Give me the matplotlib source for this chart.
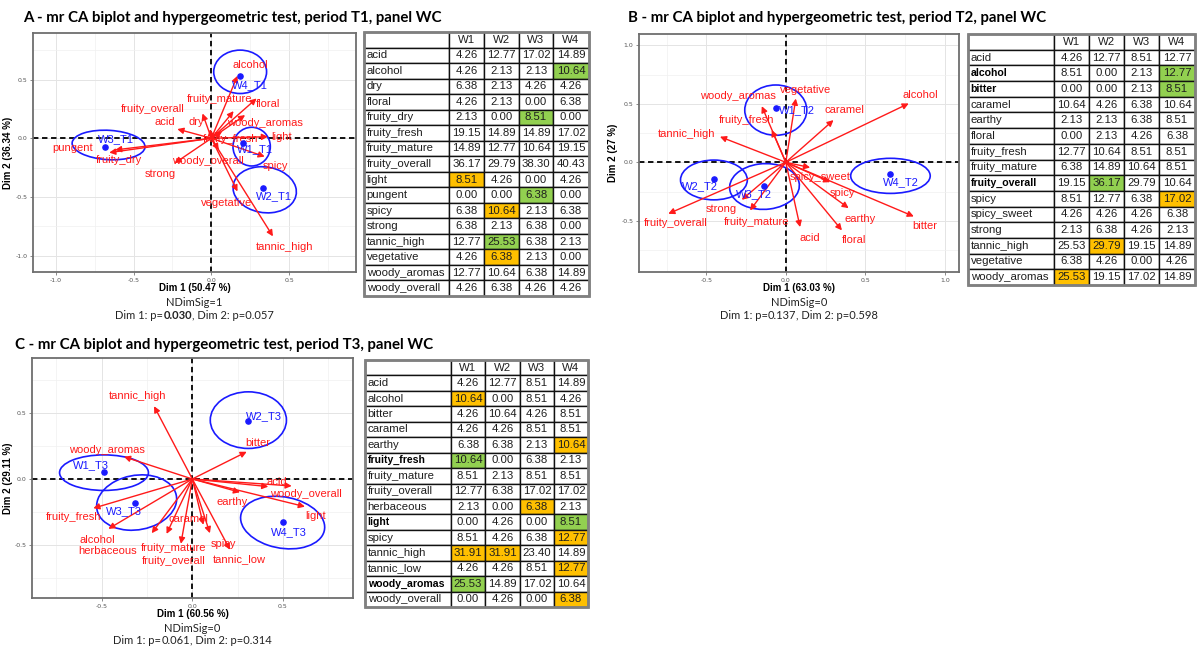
import matplotlib
matplotlib.use('Agg')
import matplotlib.pyplot as plt
from matplotlib.patches import Ellipse, Rectangle

# ---------------- panel A : period T1 ----------------
a_title = 'A - mr CA biplot and hypergeometric test, period T1, panel WC'
a_dims = ('Dim 1 (50.47 %)', 'Dim 2 (36.34 %)')
a_ndim = 'NDimSig=1'
a_pvals = ('0.030', '0.057')
a_pbold = (True, False)

a_attr = ['alcohol', 'fruity_mature', 'floral', 'woody_aromas', 'fruity_overall', 'acid',
          'dry', 'fruity_fresh', 'light', 'pungent', 'fruity_dry', 'woody_overall',
          'strong', 'spicy', 'vegetative', 'tannic_high']
a_attr_x = [0.168, 0.143, 0.291, 0.217, -0.057, -0.219, -0.008, 0.069, 0.364, -0.657,
            -0.619, 0.048, -0.236, 0.343, 0.168, 0.396]
a_attr_y = [0.533, 0.232, 0.340, 0.198, 0.212, 0.079, 0.079, 0.057, 0.014, -0.122,
            -0.099, -0.099, -0.212, -0.156, -0.453, -0.836]
a_wine = ['W1_T1', 'W2_T1', 'W3_T1', 'W4_T1']
a_wine_x = [0.202, 0.333, -0.684, 0.185]
a_wine_y = [-0.037, -0.425, -0.076, 0.530]
a_ell_x = [0.259, 0.343, -0.661, 0.185]
a_ell_y = [-0.071, -0.439, -0.057, 0.567]
a_ell_w = [0.24, 0.42, 0.47, 0.34]
a_ell_h = [0.33, 0.38, 0.25, 0.37]
a_ell_ang = [0, -35, -5, 0]

a_rows = ['acid', 'alcohol', 'dry', 'floral', 'fruity_dry', 'fruity_fresh', 'fruity_mature',
          'fruity_overall', 'light', 'pungent', 'spicy', 'strong', 'tannic_high',
          'vegetative', 'woody_aromas', 'woody_overall']
a_w1 = [4.26, 4.26, 6.38, 4.26, 2.13, 19.15, 14.89, 36.17, 8.51, 0.00, 6.38, 6.38, 12.77, 4.26, 12.77, 4.26]
a_w2 = [12.77, 2.13, 2.13, 2.13, 0.00, 14.89, 12.77, 29.79, 4.26, 0.00, 10.64, 2.13, 25.53, 6.38, 10.64, 6.38]
a_w3 = [17.02, 2.13, 4.26, 0.00, 8.51, 14.89, 10.64, 38.30, 0.00, 6.38, 2.13, 6.38, 6.38, 2.13, 6.38, 4.26]
a_w4 = [14.89, 10.64, 4.26, 6.38, 0.00, 17.02, 19.15, 40.43, 4.26, 0.00, 6.38, 0.00, 2.13, 0.00, 14.89, 4.26]
# g = over-represented, o = under-represented, . = not significant
a_sig = ['....', '...g', '....', '....', '..g.', '....', '....', '....', 'o...', '..g.',
         '.o..', '....', '.g..', '.o..', '....', '....']
a_bold = []

# ---------------- panel B : period T2 ----------------
b_title = 'B - mr CA biplot and hypergeometric test, period T2, panel WC'
b_dims = ('Dim 1 (63.03 %)', 'Dim 2 (27 %)')
b_ndim = 'NDimSig=0'
b_pvals = ('0.137', '0.598')
b_pbold = (False, False)

b_attr = ['alcohol', 'caramel', 'vegetative', 'woody_aromas', 'fruity_fresh', 'tannic_high',
          'spicy_sweet', 'spicy', 'earthy', 'bitter', 'floral', 'acid', 'fruity_mature',
          'strong', 'fruity_overall']
b_attr_x = [0.773, 0.300, 0.063, -0.151, -0.088, -0.414, 0.153, 0.279, 0.395, 0.805,
            0.353, 0.090, -0.225, -0.277, -0.739]
b_attr_y = [0.503, 0.361, 0.545, 0.480, 0.276, 0.219, -0.045, -0.170, -0.392, -0.463,
            -0.582, -0.554, -0.412, -0.321, -0.440]
b_wine = ['W1_T2', 'W2_T2', 'W3_T2', 'W4_T2']
b_wine_x = [-0.063, -0.452, -0.137, 0.653]
b_wine_y = [0.460, -0.145, -0.199, -0.099]
b_ell_x = [-0.063, -0.452, -0.134, 0.658]
b_ell_y = [0.446, -0.151, -0.207, -0.116]
b_ell_w = [0.39, 0.42, 0.44, 0.50]
b_ell_h = [0.43, 0.34, 0.39, 0.30]
b_ell_ang = [0, 0, 10, 0]

b_rows = ['acid', 'alcohol', 'bitter', 'caramel', 'earthy', 'floral', 'fruity_fresh',
          'fruity_mature', 'fruity_overall', 'spicy', 'spicy_sweet', 'strong', 'tannic_high',
          'vegetative', 'woody_aromas']
b_w1 = [4.26, 8.51, 0.00, 10.64, 2.13, 0.00, 12.77, 6.38, 19.15, 8.51, 4.26, 2.13, 25.53, 6.38, 25.53]
b_w2 = [12.77, 0.00, 0.00, 4.26, 2.13, 2.13, 10.64, 14.89, 36.17, 12.77, 4.26, 6.38, 29.79, 4.26, 19.15]
b_w3 = [8.51, 2.13, 2.13, 6.38, 6.38, 4.26, 8.51, 10.64, 29.79, 6.38, 4.26, 4.26, 19.15, 0.00, 17.02]
b_w4 = [12.77, 12.77, 8.51, 10.64, 8.51, 6.38, 8.51, 8.51, 10.64, 17.02, 6.38, 2.13, 14.89, 4.26, 14.89]
b_sig = ['....', '...g', '...g', '....', '....', '....', '....', '....', '.g..', '...o',
         '....', '....', '.o..', '....', 'o...']
b_bold = ['alcohol', 'bitter', 'fruity_overall']

# ---------------- panel C : period T3 ----------------
c_title = 'C - mr CA biplot and hypergeometric test, period T3, panel WC'
c_dims = ('Dim 1 (60.56 %)', 'Dim 2 (29.11 %)')
c_ndim = 'NDimSig=0'
c_pvals = ('0.061', '0.314')
c_pbold = (False, False)

c_attr = ['tannic_high', 'woody_aromas', 'bitter', 'acid', 'woody_overall', 'light', 'earthy',
          'fruity_fresh', 'alcohol', 'herbaceous', 'fruity_mature', 'fruity_overall',
          'caramel', 'spicy', 'tannic_low']
c_attr_x = [-0.211, -0.377, 0.300, 0.419, 0.548, 0.621, 0.263, -0.546, -0.463, -0.224,
            -0.142, -0.063, 0.061, 0.097, 0.208]
c_attr_y = [0.553, 0.169, 0.207, -0.058, -0.053, -0.210, -0.101, -0.222, -0.379, -0.412,
            -0.417, -0.492, -0.348, -0.412, -0.538]
c_wine = ['W1_T3', 'W2_T3', 'W3_T3', 'W4_T3']
c_wine_x = [-0.485, 0.309, -0.316, 0.502]
c_wine_y = [0.056, 0.439, -0.179, -0.328]
c_ell_x = [-0.487, 0.309, -0.307, 0.498]
c_ell_y = [0.048, 0.447, -0.179, -0.331]
c_ell_w = [0.49, 0.42, 0.46, 0.48]
c_ell_h = [0.27, 0.43, 0.40, 0.38]
c_ell_ang = [0, 0, 35, -25]

c_rows = ['acid', 'alcohol', 'bitter', 'caramel', 'earthy', 'fruity_fresh', 'fruity_mature',
          'fruity_overall', 'herbaceous', 'light', 'spicy', 'tannic_high', 'tannic_low',
          'woody_aromas', 'woody_overall']
c_w1 = [4.26, 10.64, 4.26, 4.26, 6.38, 10.64, 8.51, 12.77, 2.13, 0.00, 8.51, 31.91, 4.26, 25.53, 0.00]
c_w2 = [12.77, 0.00, 10.64, 4.26, 6.38, 0.00, 2.13, 6.38, 0.00, 4.26, 4.26, 31.91, 4.26, 14.89, 4.26]
c_w3 = [8.51, 8.51, 4.26, 8.51, 2.13, 6.38, 8.51, 17.02, 6.38, 0.00, 6.38, 23.40, 8.51, 17.02, 0.00]
c_w4 = [14.89, 4.26, 8.51, 8.51, 10.64, 2.13, 8.51, 17.02, 2.13, 8.51, 12.77, 14.89, 12.77, 10.64, 6.38]
c_sig = ['....', 'o...', '....', '....', '...o', 'g...', '....', '....', '..o.', '...g',
         '...o', 'oo..', '...o', 'g...', '...o']
c_bold = ['fruity_fresh', 'light', 'woody_aromas']

# ---------------- layout ----------------
W, H = 1199, 653
RED = '#ff1a1a'
BLUE = '#1a1aff'
SIG_COL = {'g': '#92d050', 'o': '#ffc000', '.': 'white'}

# label offsets (points) relative to the arrow tip / wine point
a_off = {'alcohol': (9, 8), 'fruity_mature': (-10, 9), 'floral': (8, -4), 'woody_aromas': (14, -6),
         'fruity_overall': (-36, 3), 'acid': (-9, 5), 'dry': (-10, 5), 'fruity_fresh': (6, -5),
         'light': (10, -0.5), 'pungent': (-26, 3), 'fruity_dry': (3, -7), 'woody_overall': (-8, -8),
         'strong': (-10, -8), 'spicy': (8, -7), 'vegetative': (-8, -8), 'tannic_high': (8, -8),
         'W1_T1': (9, -5), 'W2_T1': (8, -6), 'W3_T1': (8, 6), 'W4_T1': (7, -6.5)}
b_off = {'alcohol': (8, 6), 'caramel': (8, 7), 'vegetative': (7, 6), 'woody_aromas': (-17, 7),
         'fruity_fresh': (-18, 7), 'tannic_high': (-24, 2), 'spicy_sweet': (7, -7), 'spicy': (9, -8),
         'earthy': (8, -8), 'bitter': (8, -7), 'floral': (9, -7), 'acid': (7, -8),
         'fruity_mature': (5, -8), 'strong': (-15, -6.5), 'fruity_overall': (5, -7),
         'W1_T2': (15, -1), 'W2_T2': (-10, -5), 'W3_T2': (-7, -6), 'W4_T2': (8, -6)}
c_off = {'tannic_high': (-12, 7), 'woody_aromas': (-12, 5), 'bitter': (8, 6), 'acid': (6, 3),
         'woody_overall': (10, -6), 'light': (8, -6.5), 'earthy': (-5.5, -7), 'fruity_fresh': (-14, -6.5),
         'alcohol': (-8, -8), 'herbaceous': (-32, -13), 'fruity_mature': (5, -10),
         'fruity_overall': (-5.5, -12.5), 'caramel': (-11, 4), 'spicy': (10, -8), 'tannic_low': (7, -7),
         'W1_T3': (-10, 5), 'W2_T3': (11, 4), 'W3_T3': (-8, -6), 'W4_T3': (4, -7)}

fig = plt.figure(figsize=(W / 100, H / 100), dpi=100)
fig.patch.set_facecolor('white')


def px_rect(l, t, r, b):
    return [l / W, 1 - b / H, (r - l) / W, (b - t) / H]


def ftext(x, y, s, **kw):
    return fig.text(x / W, 1 - y / H, s, **kw)


def mixed_text(xc, yc, parts, **kw):
    renderer = fig.canvas.get_renderer()
    texts = [ftext(0, 0, s, fontweight=wt, ha='left', va='center', **kw) for s, wt in parts]
    widths = [t.get_window_extent(renderer).width for t in texts]
    x = xc - sum(widths) / 2
    for t, w in zip(texts, widths):
        t.set_position((x / W, 1 - yc / H))
        x += w


def draw_biplot(rect, ylab_x, xlim, ylim, ticks, attr, ax_x, ax_y, wine, wx, wy,
                ell, offs, dims, ndim, pvals, pbold):
    l, t, r, b = rect
    ax = fig.add_axes(px_rect(l, t, r, b))
    ax.set_xticks(ticks[0])
    ax.set_yticks(ticks[1])
    ax.set_xticks([v + 0.25 for v in ticks[0]] + [ticks[0][0] - 0.25], minor=True)
    ax.set_yticks([v + 0.25 for v in ticks[1]] + [ticks[1][0] - 0.25], minor=True)
    ax.set_xticklabels(['%.1f' % v for v in ticks[0]])
    ax.set_yticklabels(['%.1f' % v for v in ticks[1]])
    # limits after the ticks, so the outer minor ticks do not widen the view
    ax.set_xlim(xlim)
    ax.set_ylim(ylim)
    ax.tick_params(which='major', labelsize=4.5, labelcolor='#555555', color='#777777',
                   length=2, width=0.6, pad=2)
    ax.tick_params(which='minor', length=0)
    ax.grid(which='major', color='#e4e4e4', lw=0.7)
    ax.grid(which='minor', color='#f0f0f0', lw=0.5)
    ax.set_axisbelow(True)
    for sp in ax.spines.values():
        sp.set_color('#6e6e6e')
        sp.set_linewidth(1.3)
    ax.axhline(0, color='black', ls=(0, (3, 2)), lw=1.3, zorder=1)
    ax.axvline(0, color='black', ls=(0, (3, 2)), lw=1.3, zorder=1)

    for name, x, y in zip(attr, ax_x, ax_y):
        ax.annotate('', xy=(x, y), xytext=(0, 0),
                    arrowprops=dict(arrowstyle='-|>', color=RED, lw=1.0, mutation_scale=9,
                                    shrinkA=0, shrinkB=0), zorder=3)
        ax.annotate(name, xy=(x, y), xytext=offs[name], textcoords='offset points',
                    ha='center', va='center', color=RED, fontsize=8,
                    family='Liberation Sans', zorder=4)

    for cx, cy, ew, eh, ang in zip(*ell):
        ax.add_patch(Ellipse((cx, cy), ew, eh, angle=ang, fill=False, ec=BLUE, lw=1.2, zorder=2))
    ax.scatter(wx, wy, color=BLUE, s=14, zorder=5)
    for name, x, y in zip(wine, wx, wy):
        ax.annotate(name, xy=(x, y), xytext=offs[name], textcoords='offset points',
                    ha='center', va='center', color=BLUE, fontsize=8,
                    family='Liberation Sans', zorder=5)

    ax.set_ylabel(dims[1], fontsize=7, fontweight='bold', family='Liberation Sans')
    ax.yaxis.set_label_coords((ylab_x - l) / (r - l), 0.5)
    xc = (l + r) / 2
    ftext(xc, b + 16, dims[0], fontsize=7, fontweight='bold', family='Liberation Sans',
          ha='center', va='center')
    ftext(xc, b + 30, ndim, fontsize=8, family='Lato', ha='center', va='center', color='#222222')
    mixed_text(xc, b + 43, [('Dim 1: p=', 'normal'),
                            (pvals[0], 'bold' if pbold[0] else 'normal'),
                            (', Dim 2: p=' + pvals[1], 'normal')],
               fontsize=8, family='Lato', color='#222222')
    return ax


def draw_table(rect, col_px, rows, cols, sig, bold):
    l, t, r, b = rect
    ax = fig.add_axes(px_rect(l, t, r, b))
    ax.axis('off')
    text = [['', 'W1', 'W2', 'W3', 'W4']]
    for i, name in enumerate(rows):
        text.append([name] + ['%.2f' % c[i] for c in cols])
    widths = [w / (r - l) for w in col_px]
    tbl = ax.table(cellText=text, colWidths=widths, bbox=[0, 0, 1, 1], cellLoc='center')
    tbl.auto_set_font_size(False)
    for (i, j), cell in tbl.get_celld().items():
        cell.set_edgecolor('#111111')
        cell.set_linewidth(1.0)
        txt = cell.get_text()
        txt.set_fontsize(8.2)
        txt.set_family('Liberation Sans')
        txt.set_color('#1e1e1e')
        if j == 0:
            cell._loc = 'left'
            cell.PAD = 0.03
            txt.set_ha('left')
            if i > 0 and rows[i - 1] in bold:
                txt.set_fontweight('bold')
                txt.set_fontsize(7.6)
                txt.set_color('black')
        if i > 0 and j > 0:
            cell.set_facecolor(SIG_COL[sig[i - 1][j - 1]])
    ax.add_patch(Rectangle((0, 0), 1, 1, transform=ax.transAxes, fill=False,
                           ec='#808080', lw=2.0, clip_on=False, zorder=10))


# titles
ftext(23, 18, a_title, fontsize=10.8, fontweight='bold', family='Lato', va='center')
ftext(628, 18, b_title, fontsize=10.8, fontweight='bold', family='Lato', va='center')
ftext(15, 345, c_title, fontsize=10.8, fontweight='bold', family='Lato', va='center')

draw_biplot((33, 33, 356, 272), 13, (-1.147, 0.93), (-1.14, 0.898),
            ([-1.0, -0.5, 0.0, 0.5], [-1.0, -0.5, 0.0, 0.5]),
            a_attr, a_attr_x, a_attr_y, a_wine, a_wine_x, a_wine_y,
            (a_ell_x, a_ell_y, a_ell_w, a_ell_h, a_ell_ang), a_off,
            a_dims, a_ndim, a_pvals, a_pbold)
draw_biplot((639, 34, 959, 272), 618, (-0.923, 1.089), (-0.938, 1.097),
            ([-0.5, 0.0, 0.5, 1.0], [-0.5, 0.0, 0.5, 1.0]),
            b_attr, b_attr_x, b_attr_y, b_wine, b_wine_x, b_wine_y,
            (b_ell_x, b_ell_y, b_ell_w, b_ell_h, b_ell_ang), b_off,
            b_dims, b_ndim, b_pvals, b_pbold)
draw_biplot((32, 358, 353, 598), 13, (-0.884, 0.886), (-0.904, 0.919),
            ([-0.5, 0.0, 0.5], [-0.5, 0.0, 0.5]),
            c_attr, c_attr_x, c_attr_y, c_wine, c_wine_x, c_wine_y,
            (c_ell_x, c_ell_y, c_ell_w, c_ell_h, c_ell_ang), c_off,
            c_dims, c_ndim, c_pvals, c_pbold)

draw_table((364, 32, 589, 296), [85, 35, 35, 34, 36], a_rows, [a_w1, a_w2, a_w3, a_w4], a_sig, a_bold)
draw_table((968, 34, 1195, 285), [86, 35, 35, 35, 36], b_rows, [b_w1, b_w2, b_w3, b_w4], b_sig, b_bold)
draw_table((365, 360, 588, 607), [86, 34, 35, 34, 34], c_rows, [c_w1, c_w2, c_w3, c_w4], c_sig, c_bold)

fig.savefig('out.png', dpi=100)
